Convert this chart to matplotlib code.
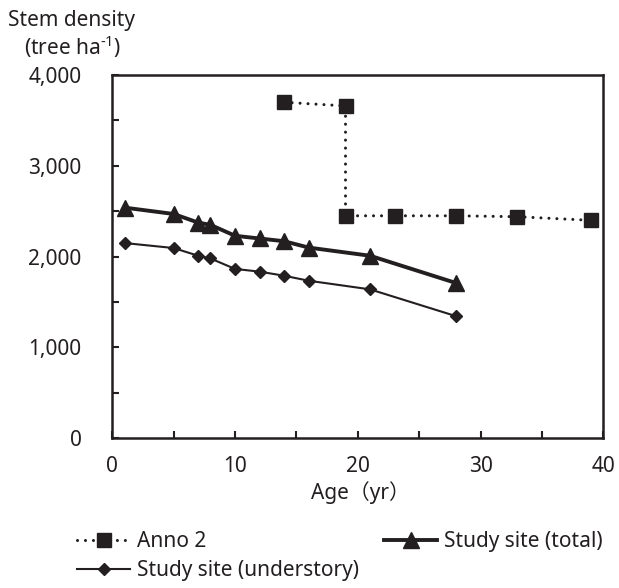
import matplotlib
matplotlib.use('Agg')
import matplotlib.pyplot as plt
from matplotlib.ticker import MultipleLocator, FuncFormatter

plt.rcParams['font.family'] = ['Noto Sans', 'Noto Sans CJK JP', 'DejaVu Sans']
plt.rcParams['mathtext.default'] = 'regular'

ink = '#231f20'
fs = 15

# Anno 2
anno_age = [14, 19, 19, 23, 28, 33, 39]
anno_density = [3700, 3660, 2450, 2450, 2450, 2440, 2400]

# Study site (total)
total_age = [1, 5, 7, 8, 10, 12, 14, 16, 21, 28]
total_density = [2540, 2470, 2375, 2350, 2230, 2200, 2170, 2100, 2010, 1710]

# Study site (understory)
under_age = [1, 5, 7, 8, 10, 12, 14, 16, 21, 28]
under_density = [2150, 2095, 2010, 1980, 1865, 1835, 1790, 1735, 1640, 1345]

fig = plt.figure(figsize=(6.19, 5.88), dpi=100)
ax = fig.add_axes([0.1814, 0.2546, 0.7932, 0.6178])

l1, = ax.plot(anno_age, anno_density, color=ink, lw=2.2,
              linestyle=(0, (0.01, 2.6)), dash_capstyle='round',
              marker='s', markersize=10.5, label='Anno 2')
l2, = ax.plot(total_age, total_density, color=ink, lw=2.8,
              marker='^', markersize=11, label='Study site (total)')
l3, = ax.plot(under_age, under_density, color=ink, lw=1.5,
              marker='D', markersize=6.5, label='Study site (understory)')

ax.set_xlim(0, 40)
ax.set_ylim(0, 4000)
ax.xaxis.set_major_locator(MultipleLocator(10))
ax.xaxis.set_minor_locator(MultipleLocator(5))
ax.yaxis.set_major_locator(MultipleLocator(1000))
ax.yaxis.set_minor_locator(MultipleLocator(500))
ax.yaxis.set_major_formatter(FuncFormatter(lambda v, p: f'{int(v):,}'))

ax.tick_params(which='both', direction='in', length=5, width=1.5, color=ink,
               labelsize=fs, labelcolor=ink, top=False, right=False)
ax.tick_params(axis='x', which='major', pad=13)
ax.tick_params(axis='y', which='major', pad=22)
for s in ax.spines.values():
    s.set_linewidth(1.8)
    s.set_color(ink)

fig.text(72 / 619, 1 - 26 / 588, 'Stem density', ha='center', va='baseline',
         fontsize=fs, color=ink)
fig.text(73 / 619, 1 - 55 / 588, '(tree ha$^{\u20101}$)', ha='center',
         va='baseline', fontsize=fs, color=ink)
fig.text(360 / 619, 1 - 493 / 588, 'Age（yr）', ha='center', va='center',
         fontsize=fs, color=ink)

fig.legend(handles=[l1, l3, l2], ncol=2, loc='upper left',
           bbox_to_anchor=(77 / 619, 1 - 531 / 588), frameon=False,
           fontsize=fs, handlelength=2.55, handletextpad=0.34,
           columnspacing=1.2, labelspacing=0.4, borderpad=0,
           borderaxespad=0, labelcolor=ink)

fig.savefig('out.png', dpi=100)
